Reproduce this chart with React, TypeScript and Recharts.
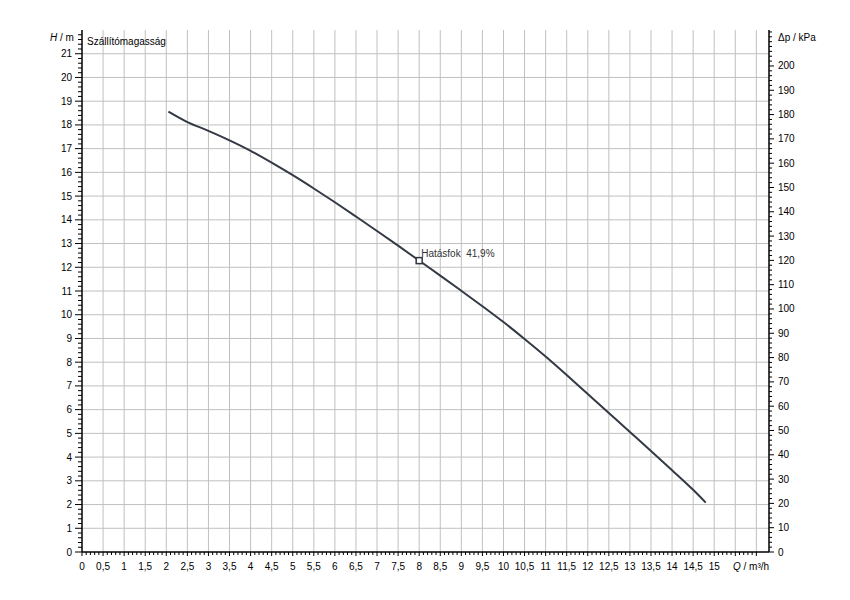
import React from "react";
import {
  ComposedChart,
  Line,
  Scatter,
  XAxis,
  YAxis,
  CartesianGrid,
  LabelList,
} from "recharts";

// Pump curve: flow Q (m³/h) vs head H (m)
const flowQ = [2.05, 2.5, 3, 3.5, 4, 4.5, 5, 5.5, 6, 6.5, 7, 7.5, 8, 8.5, 9, 9.5, 10, 10.5, 11, 11.5, 12, 12.5, 13, 13.5, 14, 14.5, 14.8];
const headH = [18.56, 18.12, 17.75, 17.35, 16.91, 16.41, 15.88, 15.32, 14.74, 14.14, 13.53, 12.91, 12.28, 11.65, 11.01, 10.36, 9.69, 8.98, 8.24, 7.46, 6.66, 5.86, 5.06, 4.26, 3.45, 2.62, 2.08];

// Efficiency marker
const markerQ = [8];
const markerH = [12.28];
const markerLabel = ["Hatásfok  41,9%"];

// Axis ticks
const xMinorTicks = Array.from({ length: 161 }, (_, i) => Math.round(i) / 10);
const xLabelTicks = [0, 0.5, 1, 1.5, 2, 2.5, 3, 3.5, 4, 4.5, 5, 5.5, 6, 6.5, 7, 7.5, 8, 8.5, 9, 9.5, 10, 10.5, 11, 11.5, 12, 12.5, 13, 13.5, 14, 14.5, 15];
const xGrid = [0.5, 1, 1.5, 2, 2.5, 3, 3.5, 4, 4.5, 5, 5.5, 6, 6.5, 7, 7.5, 8, 8.5, 9, 9.5, 10, 10.5, 11, 11.5, 12, 12.5, 13, 13.5, 14, 14.5, 15, 15.5, 16];
const hMinorTicks = Array.from({ length: 110 }, (_, i) => Math.round(i * 2) / 10);
const hLabelTicks = [0, 1, 2, 3, 4, 5, 6, 7, 8, 9, 10, 11, 12, 13, 14, 15, 16, 17, 18, 19, 20, 21];
const hGrid = [1, 2, 3, 4, 5, 6, 7, 8, 9, 10, 11, 12, 13, 14, 15, 16, 17, 18, 19, 20, 21];
const pMinorTicks = Array.from({ length: 108 }, (_, i) => i * 2);
const pLabelTicks = [0, 10, 20, 30, 40, 50, 60, 70, 80, 90, 100, 110, 120, 130, 140, 150, 160, 170, 180, 190, 200];

const curveData = flowQ.map((q, i) => ({ q, h: headH[i] }));
const markerData = markerQ.map((q, i) => ({ q, h: markerH[i], label: markerLabel[i] }));

const FONT = "'Liberation Sans', Arial, sans-serif";
const FS = 10;

const isIn = (arr: number[], v: number) => arr.some((a) => Math.abs(a - v) < 1e-6);

const BottomTick = (props: any) => {
  const { x, y, payload } = props;
  const v = payload.value;
  const major = Math.abs(v * 2 - Math.round(v * 2)) < 1e-6;
  const label = isIn(xLabelTicks, v) ? String(v).replace(".", ",") : null;
  return (
    <g>
      <line x1={x} x2={x} y1={y} y2={y + (major ? 4 : 3)} stroke="#000" strokeWidth={1} />
      {label !== null && (
        <text x={x} y={y + 18} textAnchor="middle" fontSize={FS} fontFamily={FONT} fill="#000">
          {label}
        </text>
      )}
    </g>
  );
};

const LeftTick = (props: any) => {
  const { x, y, payload } = props;
  const v = payload.value;
  const major = isIn(hLabelTicks, v);
  return (
    <g>
      <line x1={x} x2={x - (major ? 7 : 4)} y1={y} y2={y} stroke="#000" strokeWidth={1} />
      {major && (
        <text x={x - 10} y={y + 3.5} textAnchor="end" fontSize={FS} fontFamily={FONT} fill="#000">
          {v}
        </text>
      )}
    </g>
  );
};

const RightTick = (props: any) => {
  const { x, y, payload } = props;
  const v = payload.value;
  const major = isIn(pLabelTicks, v);
  return (
    <g>
      <line x1={x} x2={x + (major ? 5 : 3)} y1={y} y2={y} stroke="#000" strokeWidth={1} />
      {major && (
        <text x={x + 9} y={y + 3.5} textAnchor="start" fontSize={FS} fontFamily={FONT} fill="#000">
          {v}
        </text>
      )}
    </g>
  );
};

const SquareShape = (props: any) => {
  const { cx, cy } = props;
  return <rect x={cx - 3} y={cy - 3} width={6} height={6} fill="#fff" stroke="#2f3640" strokeWidth={1.5} />;
};

const MarkerLabel = (props: any) => {
  const { x, y, width, height, value } = props;
  const cx = x + (width || 0) / 2;
  const cy = y + (height || 0) / 2;
  return (
    <text x={cx + 2} y={cy - 4} fontSize={FS} fontFamily={FONT} fill="#333" style={{ whiteSpace: "pre" }}>
      {value}
    </text>
  );
};

const textStyle: React.CSSProperties = {
  position: "absolute",
  fontFamily: FONT,
  fontSize: FS,
  color: "#000",
  whiteSpace: "pre",
  lineHeight: "12px",
};

export default function App() {
  return (
    <div style={{ position: "absolute", left: 0, top: 0, width: 850, height: 600, background: "#fff" }}>
      <ComposedChart
        width={850}
        height={600}
        margin={{ top: 30, right: 21, bottom: 18, left: 42 }}
      >
        <CartesianGrid
          stroke="#c0c0c0"
          strokeWidth={1}
          verticalValues={xGrid}
          horizontalValues={hGrid}
        />
        <XAxis
          type="number"
          dataKey="q"
          domain={[0, 16.3]}
          ticks={xMinorTicks}
          interval={0}
          allowDataOverflow
          tickLine={false}
          tickSize={0}
          tickMargin={0}
          tick={<BottomTick />}
          axisLine={{ stroke: "#000", strokeWidth: 1.5 }}
          height={30}
        />
        <YAxis
          type="number"
          dataKey="h"
          domain={[0, 22]}
          ticks={hMinorTicks}
          interval={0}
          allowDataOverflow
          tickLine={false}
          tickSize={0}
          tickMargin={0}
          tick={<LeftTick />}
          axisLine={{ stroke: "#000", strokeWidth: 1.5 }}
          width={40}
        />
        <YAxis
          yAxisId="right"
          orientation="right"
          type="number"
          domain={[0, 214.8]}
          ticks={pMinorTicks}
          interval={0}
          allowDataOverflow
          tickLine={false}
          tickSize={0}
          tickMargin={0}
          tick={<RightTick />}
          axisLine={{ stroke: "#000", strokeWidth: 1.5 }}
          width={60}
        />
        <Line
          data={curveData}
          dataKey="h"
          type="monotone"
          stroke="#333a44"
          strokeWidth={2}
          dot={false}
          isAnimationActive={false}
        />
        <Scatter
          data={markerData}
          dataKey="h"
          shape={<SquareShape />}
          isAnimationActive={false}
        >
          <LabelList dataKey="label" content={<MarkerLabel />} />
        </Scatter>
      </ComposedChart>
      <div style={{ ...textStyle, left: 50, top: 32 }}>
        <i>H</i> / m
      </div>
      <div style={{ ...textStyle, left: 87, top: 36 }}>Szállítómagasság</div>
      <div style={{ ...textStyle, left: 778, top: 32 }}>
        Δp / kPa
      </div>
      <div style={{ ...textStyle, left: 733, top: 561 }}>
        <i>Q</i> / m³/h
      </div>
    </div>
  );
}
